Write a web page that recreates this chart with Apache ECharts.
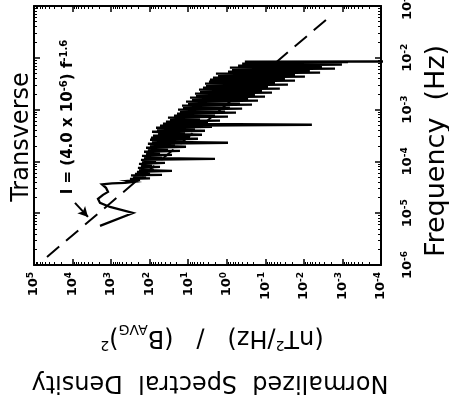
<!DOCTYPE html>
<html>
<head>
<meta charset="utf-8">
<script src="https://cdn.jsdelivr.net/npm/echarts@6/dist/echarts.min.js"></script>
<style>
  html, body { margin: 0; padding: 0; background: #fff; }
  #chart { width: 449px; height: 400px; }
</style>
</head>
<body>
<div id="chart"></div>
<script>
// Transverse power spectrum: frequency (Hz) and normalized spectral density
const freqHz = [
  5.68e-6, 1.01e-5, 1.32e-5, 1.58e-5, 1.89e-5, 2.26e-5, 2.58e-5, 3.09e-5, 3.61e-5, 3.77e-5,
  3.86e-5, 4.03e-5, 4.22e-5, 4.41e-5, 4.61e-5, 4.71e-5, 4.93e-5, 5.15e-5, 5.38e-5, 5.51e-5,
  5.76e-5, 6.02e-5, 6.29e-5, 6.58e-5, 6.88e-5, 7.19e-5, 7.52e-5, 7.86e-5, 8.22e-5, 8.60e-5,
  8.99e-5, 9.40e-5, 9.82e-5, 1.027e-4, 1.074e-4, 1.123e-4, 1.174e-4, 1.227e-4, 1.283e-4, 1.342e-4,
  1.403e-4, 1.467e-4, 1.534e-4, 1.603e-4, 1.676e-4, 1.753e-4, 1.833e-4, 1.916e-4, 2.003e-4, 2.094e-4,
  2.190e-4, 2.290e-4, 2.394e-4, 2.503e-4, 2.617e-4, 2.736e-4, 2.861e-4, 2.991e-4, 3.127e-4, 3.269e-4,
  3.418e-4, 3.573e-4, 3.736e-4, 3.906e-4, 4.084e-4, 4.270e-4, 4.465e-4, 4.668e-4, 4.880e-4, 5.102e-4,
  5.334e-4, 5.577e-4, 5.834e-4, 6.10e-4, 6.38e-4, 6.67e-4, 6.97e-4, 7.29e-4, 7.62e-4, 7.97e-4,
  8.33e-4, 8.71e-4, 9.11e-4, 9.52e-4, 9.96e-4, 1.041e-3, 1.088e-3, 1.138e-3, 1.190e-3, 1.244e-3,
  1.301e-3, 1.360e-3, 1.422e-3, 1.486e-3, 1.554e-3, 1.625e-3, 1.699e-3, 1.776e-3, 1.857e-3, 1.942e-3,
  2.030e-3, 2.123e-3, 2.219e-3, 2.320e-3, 2.426e-3, 2.537e-3, 2.652e-3, 2.773e-3, 2.900e-3, 3.031e-3,
  3.170e-3, 3.314e-3, 3.465e-3, 3.622e-3, 3.787e-3, 3.960e-3, 4.140e-3, 4.329e-3, 4.526e-3, 4.732e-3,
  4.947e-3, 5.173e-3, 5.408e-3, 5.654e-3, 5.912e-3, 6.181e-3, 6.462e-3, 6.756e-3, 7.064e-3, 7.386e-3,
  7.722e-3, 7.90e-3, 8.07e-3, 8.26e-3, 8.44e-3, 8.50e-3
];
const density = [
  1940, 271, 1070, 1940, 2190, 1625, 1205, 1358, 1725, 948,
  437, 255, 365, 178, 324, 98, 271, 124, 305, 47.9,
  240, 98, 213, 26.4, 189, 77.3, 201, 54, 168, 87,
  189, 40.1, 158, 68.5, 168, 2.02, 140, 47.9, 158, 26.4,
  124, 54, 140, 16.4, 111, 33.5, 124, 11.4, 98, 22.0,
  111, 0.93, 87, 12.1, 98, 5.58, 92.5, 9.0, 82, 4.40,
  60.8, 12.1, 87, 3.67, 64.6, 6.68, 68.5, 2.42, 54, 0.0062,
  45.2, 3.07, 37.8, 1.50, 29.7, 4.95, 33.5, 0.93, 23.4, 2.02,
  19.5, 0.577, 16.4, 1.11, 18.4, 0.40, 13.7, 0.83, 14.5, 0.222,
  10.1, 0.455, 11.4, 0.155, 8.0, 0.28, 9.0, 0.102, 6.29, 0.186,
  6.68, 0.0673, 4.95, 0.122, 5.26, 0.042, 4.14, 0.0855, 3.46, 0.0259,
  3.67, 0.0562, 2.90, 0.017, 2.73, 0.031, 2.28, 0.0094, 1.69, 0.017,
  1.91, 0.0038, 0.93, 0.0070, 0.73, 0.00156, 0.83, 0.0034, 0.51, 0.00103,
  0.40, 0.0021, 0.34, 0.00072, 0.34, 1e-5
];

// Power-law fit line (dashed), end points
const fitFreq = [1.43e-6, 6.27e-2];
const fitDensity = [4.6e4, 2.1e-3];

// Arrow pointing at the fit line: tail and head
const arrowFreq = [1.58e-5, 8.48e-6];
const arrowDensity = [8650, 3980];

// Axis ranges (decades)
const densityRange = [1e-4, 1e5];
const freqRange = [1e-6, 1e-1];

// Minor tick values at 2..9 within every decade of a range
function minorValues(range) {
  const out = [];
  const lo = Math.round(Math.log10(range[0]));
  const hi = Math.round(Math.log10(range[1]));
  for (let e = lo; e < hi; e++) {
    for (let k = 2; k <= 9; k++) out.push(k * Math.pow(10, e));
  }
  return out;
}

const FONT = '"DejaVu Sans", "Liberation Sans", Arial, sans-serif';

function powLabel(v) {
  const e = Math.round(Math.log10(v));
  return '{b|10}{s|' + (e < 0 ? '-' + (-e) : e) + '}';
}
const labelRich = {
  b: { fontSize: 13, fontWeight: 'bold', fontFamily: FONT, color: '#000', lineHeight: 16 },
  s: { fontSize: 9, fontWeight: 'bold', fontFamily: FONT, color: '#000', verticalAlign: 'top', lineHeight: 9 }
};

const frameLine = { show: true, onZero: false, lineStyle: { color: '#000', width: 2 } };
const majorTick = { show: true, inside: true, length: 6, lineStyle: { color: '#000', width: 1.5 } };

// Major axes: frame line, decade ticks and labels
function densityAxis(pos, labels) {
  return {
    type: 'log', logBase: 10, position: pos, inverse: true,
    min: densityRange[0], max: densityRange[1],
    axisLine: frameLine, axisTick: majorTick, minorTick: { show: false },
    splitLine: { show: false },
    axisLabel: labels ? {
      show: true, rotate: 90, margin: 7, formatter: powLabel, rich: labelRich
    } : { show: false }
  };
}
function freqAxis(pos, labels) {
  return {
    type: 'log', logBase: 10, position: pos,
    min: freqRange[0], max: freqRange[1],
    axisLine: frameLine, axisTick: majorTick, minorTick: { show: false },
    splitLine: { show: false },
    axisLabel: labels ? {
      show: true, rotate: 90, margin: 19, formatter: powLabel, rich: labelRich
    } : { show: false }
  };
}
// Companion axes carrying only the short in-between ticks
function minorAxis(pos, range, inverse) {
  return {
    type: 'log', logBase: 10, position: pos, inverse: inverse,
    min: range[0], max: range[1],
    axisLine: { show: false },
    axisLabel: { show: false },
    splitLine: { show: false },
    axisTick: {
      show: true, inside: true, length: 3,
      customValues: minorValues(range),
      lineStyle: { color: '#000', width: 1 }
    }
  };
}

const chart = echarts.init(document.getElementById('chart'), null, { renderer: 'canvas' });

chart.setOption({
  animation: false,
  backgroundColor: '#fff',
  grid: { left: 34, right: 68, top: 6, bottom: 135, containLabel: false, outerBoundsMode: 'none' },
  xAxis: [
    densityAxis('bottom', true), densityAxis('top', false),
    minorAxis('bottom', densityRange, true), minorAxis('top', densityRange, true)
  ],
  yAxis: [
    freqAxis('right', true), freqAxis('left', false),
    minorAxis('right', freqRange, false), minorAxis('left', freqRange, false)
  ],
  series: [
    {
      name: 'Spectrum',
      type: 'line',
      xAxisIndex: 0, yAxisIndex: 0,
      data: freqHz.map((f, i) => [density[i], f]),
      showSymbol: false, symbol: 'none',
      clip: true,
      lineStyle: { color: '#000', width: 2.3, join: 'miter' },
      z: 3
    },
    {
      name: 'Fit',
      type: 'line',
      xAxisIndex: 0, yAxisIndex: 0,
      data: fitFreq.map((f, i) => [fitDensity[i], f]),
      showSymbol: false, symbol: 'none',
      clip: true,
      lineStyle: { color: '#000', width: 2, type: [16, 9] },
      markLine: {
        silent: true,
        symbol: ['none', 'arrow'],
        symbolSize: [8, 10],
        label: { show: false },
        lineStyle: { color: '#000', width: 2, type: 'solid' },
        data: [[
          { coord: [arrowDensity[0], arrowFreq[0]] },
          { coord: [arrowDensity[1], arrowFreq[1]] }
        ]]
      },
      z: 2
    }
  ],
  graphic: [
    {
      type: 'text', x: 22, y: 137, rotation: Math.PI / 2,
      style: { text: 'Transverse', fontSize: 24, fontFamily: FONT, fill: '#000', align: 'center', verticalAlign: 'middle' }
    },
    {
      type: 'text', x: 68, y: 117, rotation: Math.PI / 2,
      style: {
        text: '{m|I = (4.0 x 10}{s|-6}{m|) f}{s|-1.6}',
        align: 'center', verticalAlign: 'middle',
        rich: {
          m: { fontSize: 15, fontWeight: 'bold', fontFamily: FONT, fill: '#000', lineHeight: 18 },
          s: { fontSize: 10, fontWeight: 'bold', fontFamily: FONT, fill: '#000', verticalAlign: 'top', lineHeight: 10 }
        }
      }
    },
    {
      type: 'text', x: 437, y: 151, rotation: Math.PI / 2,
      style: { text: 'Frequency  (Hz)', fontSize: 27, fontFamily: FONT, fill: '#000', align: 'center', verticalAlign: 'middle' }
    },
    {
      type: 'text', x: 212, y: 337, rotation: Math.PI,
      style: {
        text: '{m|(nT}{s|2}{m|/Hz)   /   (B}{u|AVG}{m|)}{s|2}',
        align: 'center', verticalAlign: 'middle',
        rich: {
          m: { fontSize: 24, fontFamily: FONT, fill: '#000', lineHeight: 30 },
          s: { fontSize: 14, fontFamily: FONT, fill: '#000', verticalAlign: 'top', lineHeight: 14 },
          u: { fontSize: 14, fontFamily: FONT, fill: '#000', verticalAlign: 'bottom', lineHeight: 14 }
        }
      }
    },
    {
      type: 'text', x: 210, y: 382, rotation: Math.PI,
      style: { text: 'Normalized  Spectral  Density', fontSize: 24, fontFamily: FONT, fill: '#000', align: 'center', verticalAlign: 'middle' }
    }
  ]
});
</script>
</body>
</html>
